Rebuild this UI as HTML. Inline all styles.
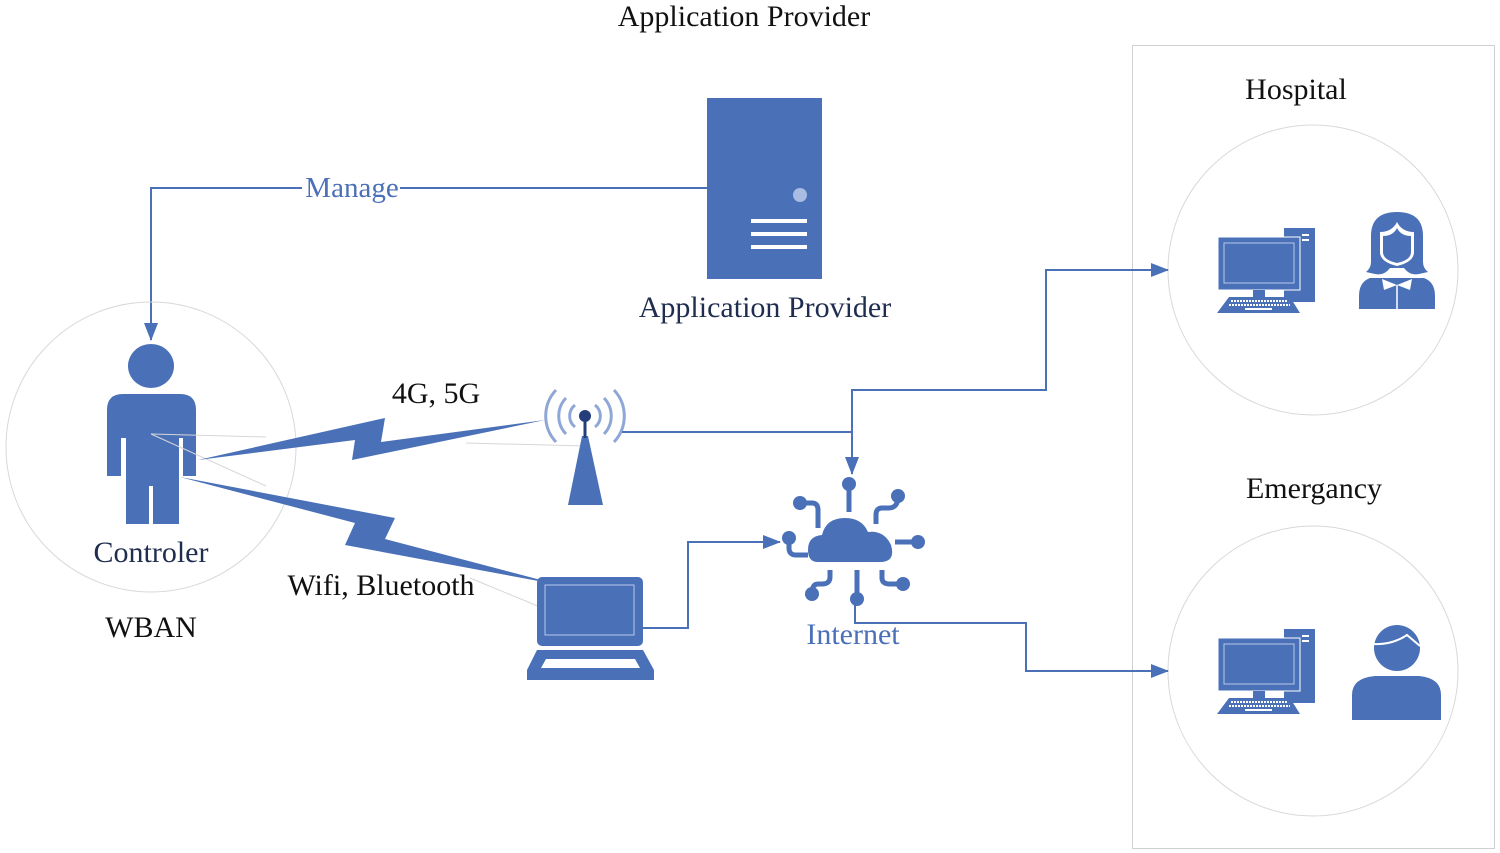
<!DOCTYPE html>
<html><head><meta charset="utf-8"><style>
html,body{margin:0;padding:0;background:#fff;}
svg{display:block;}
text{font-family:"Liberation Serif",serif;}
</style></head><body>
<svg width="1500" height="853" viewBox="0 0 1500 853" xmlns="http://www.w3.org/2000/svg">
<defs>
<marker id="ar2" markerWidth="18" markerHeight="14" refX="17" refY="7" orient="auto" markerUnits="userSpaceOnUse">
<path d="M0,0 L18,7 L0,14 z" fill="#4a70b8"/></marker>
</defs>
<text x="744" y="26" font-size="30" text-anchor="middle" fill="#111">Application Provider</text>

<rect x="1132.5" y="45.5" width="362" height="803" fill="none" stroke="#d0d0d0" stroke-width="1"/>
<text x="1296" y="99" font-size="30" text-anchor="middle" fill="#111">Hospital</text>
<circle cx="1313" cy="270" r="145" fill="none" stroke="#d8d8d8"/>
<text x="1314" y="498" font-size="30" text-anchor="middle" fill="#111">Emergancy</text>
<circle cx="1313" cy="671" r="145" fill="none" stroke="#d8d8d8"/>

<rect x="707" y="98" width="115" height="181" fill="#4a70b8"/>
<circle cx="800" cy="195" r="7" fill="#a9bde2"/>
<g stroke="#fff" stroke-width="4"><line x1="751" y1="221" x2="807" y2="221"/><line x1="751" y1="234" x2="807" y2="234"/><line x1="751" y1="247" x2="807" y2="247"/></g>
<text x="765" y="317" font-size="30" text-anchor="middle" fill="#1f2d50">Application Provider</text>

<polyline points="707,188 151,188 151,340" fill="none" stroke="#4a70b8" stroke-width="2" marker-end="url(#ar2)"/>
<rect x="302" y="176" width="98" height="26" fill="#fff"/>
<text x="352" y="197" font-size="29" text-anchor="middle" fill="#4a70b8">Manage</text>

<circle cx="151" cy="447" r="145" fill="none" stroke="#d8d8d8"/>
<ellipse cx="151" cy="366" rx="23" ry="22" fill="#4a70b8"/>
<path d="M107,410 Q107,394 123,394 L180,394 Q196,394 196,410 L196,476 L183,476 L183,438 L179,438 L179,524 L153,524 L153,486 L149,486 L149,524 L126,524 L126,438 L121,438 L121,476 L107,476 Z" fill="#4a70b8"/>
<g stroke="#d6d6d6" stroke-width="1"><line x1="151" y1="434" x2="266" y2="437"/><line x1="151" y1="434" x2="266" y2="486"/><line x1="466" y1="443" x2="586" y2="446"/><line x1="470" y1="578" x2="591" y2="628"/></g>
<text x="151" y="562" font-size="30" text-anchor="middle" fill="#1f2d50">Controler</text>
<text x="151" y="637" font-size="30" text-anchor="middle" fill="#111">WBAN</text>

<polygon points="198,460 385,418 381,442 545,420 352,460 355,440" fill="#4a70b8"/>
<polygon points="180,477 395,518 385,539 560,585 345,545 355,523" fill="#4a70b8"/>
<text x="436" y="403" font-size="30" text-anchor="middle" fill="#111">4G, 5G</text>
<text x="381" y="595" font-size="30" text-anchor="middle" fill="#111">Wifi, Bluetooth</text>

<g fill="none" stroke="#8ea7d6" stroke-width="3">
<path d="M575,405 A14,14 0 0 0 575,427"/><path d="M595,405 A14,14 0 0 1 595,427"/>
<path d="M566,398 A26,26 0 0 0 566,434"/><path d="M604,398 A26,26 0 0 1 604,434"/>
<path d="M556,390 A38,38 0 0 0 556,442"/><path d="M614,390 A38,38 0 0 1 614,442"/>
</g>
<polygon points="582,436 588,436 603,505 568,505" fill="#4a70b8"/>
<line x1="585" y1="416" x2="585" y2="438" stroke="#233e7a" stroke-width="3"/>
<circle cx="585" cy="416" r="6" fill="#233e7a"/>

<g fill="none" stroke="#4a70b8" stroke-width="2">
<polyline points="622,432 852,432 852,474" marker-end="url(#ar2)"/>
<polyline points="852,432 852,390 1046,390 1046,270 1168,270" marker-end="url(#ar2)"/>
<polyline points="643,628 688,628 688,542 780,542" marker-end="url(#ar2)"/>
<polyline points="855,605 855,623 1026,623 1026,671 1168,671" marker-end="url(#ar2)"/>
</g>

<rect x="537" y="577" width="106" height="69" rx="5" fill="#4a70b8"/>
<rect x="545" y="585" width="89" height="50" fill="none" stroke="#b8c8e8" stroke-width="1"/>
<polygon points="537,650 643,650 654,670 654,680 527,680 527,670" fill="#4a70b8"/>
<polygon points="546,659 635,659 640,668 541,668" fill="#fff"/>

<g fill="#4a70b8">
<path d="M818,562 Q808,562 808,550 Q808,536 822,535 Q826,518 845,518 Q862,518 868,532 Q884,530 891,545 Q896,562 880,562 Z"/>
</g>
<g fill="none" stroke="#4a70b8" stroke-width="5">
<line x1="849" y1="485" x2="849" y2="512"/>
<path d="M800,503 L812,503 Q818,503 818,510 L818,528"/>
<path d="M898,497 Q898,508 888,508 L882,508 Q876,508 876,515 L876,524"/>
<line x1="895" y1="542" x2="918" y2="542"/>
<path d="M789,538 L789,548 Q789,555 796,555 L808,555"/>
<path d="M830,570 L830,577 Q830,584 822,584 L818,584 Q812,584 812,594"/>
<line x1="857" y1="570" x2="857" y2="598"/>
<path d="M882,570 L882,578 Q882,584 890,584 L903,584"/>
</g>
<g fill="#4a70b8">
<circle cx="849" cy="484" r="7"/><circle cx="800" cy="503" r="7"/><circle cx="898" cy="496" r="7"/>
<circle cx="918" cy="542" r="7"/><circle cx="789" cy="538" r="7"/><circle cx="812" cy="594" r="7"/>
<circle cx="857" cy="599" r="7"/><circle cx="903" cy="584" r="7"/>
</g>
<text x="853" y="644" font-size="30" text-anchor="middle" fill="#4a70b8">Internet</text>

<g id="pc">
<rect x="1284" y="228" width="31" height="74" fill="#4a70b8"/>
<rect x="1302" y="234" width="7" height="2" fill="#fff"/><rect x="1302" y="239" width="7" height="2" fill="#fff"/>
<rect x="1218" y="237" width="82" height="53" fill="#4a70b8" stroke="#fff" stroke-width="1"/>
<rect x="1224" y="243" width="70" height="40" fill="none" stroke="#b8c8e8" stroke-width="1"/>
<rect x="1253" y="290" width="12" height="7" fill="#4a70b8"/>
<polygon points="1229,297 1290,297 1300,313 1217,313" fill="#4a70b8"/>
<g stroke="#fff" stroke-width="2" stroke-dasharray="2,1"><line x1="1231" y1="301" x2="1287" y2="301"/><line x1="1229" y1="305" x2="1290" y2="305"/></g>
<line x1="1245" y1="309" x2="1272" y2="309" stroke="#fff" stroke-width="2"/>
</g>
<use href="#pc" transform="translate(0,401)"/>

<path d="M1371,236 Q1371,212 1397,212 Q1423,212 1423,236 L1423,262 Q1423,268 1428,272 L1419,274 Q1410,276 1404,268 L1390,268 Q1384,276 1375,274 L1366,272 Q1371,268 1371,262 Z" fill="#4a70b8"/>
<path d="M1380,232 Q1392,232 1397,222 Q1402,232 1414,232 L1414,252 Q1414,262 1397,266 Q1380,262 1380,252 Z" fill="#fff"/>
<path d="M1383,236 Q1393,236 1397,228 Q1401,236 1411,236 L1411,252 Q1411,260 1397,263 Q1383,260 1383,252 Z" fill="#4a70b8"/>
<path d="M1370,278 L1424,278 Q1435,282 1435,296 L1435,309 L1359,309 L1359,296 Q1359,282 1370,278 Z" fill="#4a70b8"/>
<line x1="1397" y1="285" x2="1397" y2="309" stroke="#fff" stroke-width="1.5"/>
<path d="M1382,279 L1397,285 L1412,279 L1410,290 L1397,285 L1384,290 Z" fill="#fff"/>

<circle cx="1397" cy="648" r="23" fill="#4a70b8"/>
<path d="M1374,644 Q1392,645 1407,635 L1420,646" fill="none" stroke="#fff" stroke-width="2"/>
<path d="M1352,720 L1352,695 Q1352,678 1375,676 L1419,676 Q1441,678 1441,695 L1441,720 Z" fill="#4a70b8"/>
</svg>
</body></html>
